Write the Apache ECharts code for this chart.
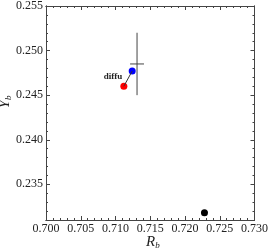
<!DOCTYPE html>
<html><head><meta charset="utf-8">
<script src="https://cdn.jsdelivr.net/npm/echarts@6/dist/echarts.min.js"></script>
<style>html,body{margin:0;padding:0;background:#fff}#c{width:271px;height:251px}</style>
</head><body><div id="c"></div>
<script>
var xMajorTicks = [0.700, 0.705, 0.710, 0.715, 0.720, 0.725, 0.730];
var yMajorTicks = [0.235, 0.240, 0.245, 0.250, 0.255];
var pointBlack = [0.7228, 0.2318];
var pointBlue = [0.7124, 0.2477];
var pointRed = [0.7112, 0.2460];
var crossCenter = [0.7131, 0.2485];
var crossErr = [0.0010, 0.0035];
var labelText = 'diffu';
var xRange = [0.700, 0.730];
var yRange = [0.231, 0.255];

function minorList(lo, hi, step) {
  var out = [];
  var n = Math.round((hi - lo) / step);
  for (var i = 0; i <= n; i++) out.push(+(lo + i * step).toFixed(4));
  return out;
}
var xMinor = minorList(0.700, 0.730, 0.001);
var yMinor = minorList(0.231, 0.255, 0.001);

var font = '"Liberation Serif", "DejaVu Serif", serif';
var axisCol = '#444';

function mkX(pos, ticks, len, showLabel) {
  return {
    type: 'value', position: pos, min: xRange[0], max: xRange[1],
    axisLine: {show: true, onZero: false, lineStyle: {color: axisCol, width: 1}},
    axisTick: {show: true, inside: true, length: len, customValues: ticks, lineStyle: {color: axisCol}},
    axisLabel: {show: showLabel, customValues: ticks, margin: 3, fontFamily: font, fontSize: 12, color: '#222',
      formatter: function (v) { return v.toFixed(3); }},
    splitLine: {show: false}
  };
}
function mkY(pos, ticks, len, showLabel) {
  return {
    type: 'value', position: pos, min: yRange[0], max: yRange[1],
    axisLine: {show: true, onZero: false, lineStyle: {color: axisCol, width: 1}},
    axisTick: {show: true, inside: true, length: len, customValues: ticks, lineStyle: {color: axisCol}},
    axisLabel: {show: showLabel, customValues: ticks, margin: 3, fontFamily: font, fontSize: 12, color: '#222',
      formatter: function (v) { return v.toFixed(3); }},
    splitLine: {show: false}
  };
}

var chart = echarts.init(document.getElementById('c'));
chart.setOption({
  animation: false,
  grid: {left: 46, right: 11, top: 6, bottom: 31},
  xAxis: [mkX('bottom', xMajorTicks, 4, true), mkX('bottom', xMinor, 2, false),
          mkX('top', xMajorTicks, 4, false), mkX('top', xMinor, 2, false)],
  yAxis: [mkY('left', yMajorTicks, 4, true), mkY('left', yMinor, 2, false),
          mkY('right', yMajorTicks, 4, false), mkY('right', yMinor, 2, false)],
  graphic: [
    {type: 'text', left: 146, top: 235, style: {
      text: '{i|R}{s|b}', fontFamily: font,
      rich: {i: {fontFamily: font, fontStyle: 'italic', fontSize: 15, fill: '#222'},
             s: {fontFamily: font, fontStyle: 'italic', fontSize: 9, fill: '#222', padding: [7, 0, 0, 0]}}}},
    {type: 'text', x: -3, y: 102, rotation: Math.PI / 2, style: {
      text: '{i|Y}{s|b}', fontFamily: font, align: 'center', verticalAlign: 'top',
      rich: {i: {fontFamily: font, fontStyle: 'italic', fontSize: 15, fill: '#222'},
             s: {fontFamily: font, fontStyle: 'italic', fontSize: 9, fill: '#222', padding: [7, 0, 0, 0]}}}}
  ],
  series: [
    {type: 'line', data: [[crossCenter[0], crossCenter[1] - crossErr[1]], [crossCenter[0], crossCenter[1] + crossErr[1]]],
     symbol: 'none', lineStyle: {color: '#444', width: 1}},
    {type: 'line', data: [[crossCenter[0] - crossErr[0], crossCenter[1]], [crossCenter[0] + crossErr[0], crossCenter[1]]],
     symbol: 'none', lineStyle: {color: '#444', width: 1}},
    {type: 'line', data: [pointRed, pointBlue], symbol: 'none', lineStyle: {color: '#333', width: 1}},
    {type: 'scatter', data: [pointBlue], symbolSize: 7, itemStyle: {color: '#0000ff', opacity: 1}},
    {type: 'scatter', data: [pointRed], symbolSize: 7, itemStyle: {color: '#ff0000', opacity: 1},
     label: {show: true, position: 'left', distance: 0, offset: [2, -10], formatter: labelText,
       fontFamily: font, fontWeight: 'bold', fontSize: 9, color: '#222'}},
    {type: 'scatter', data: [pointBlack], symbolSize: 7, itemStyle: {color: '#000', opacity: 1}}
  ]
});
</script></body></html>
